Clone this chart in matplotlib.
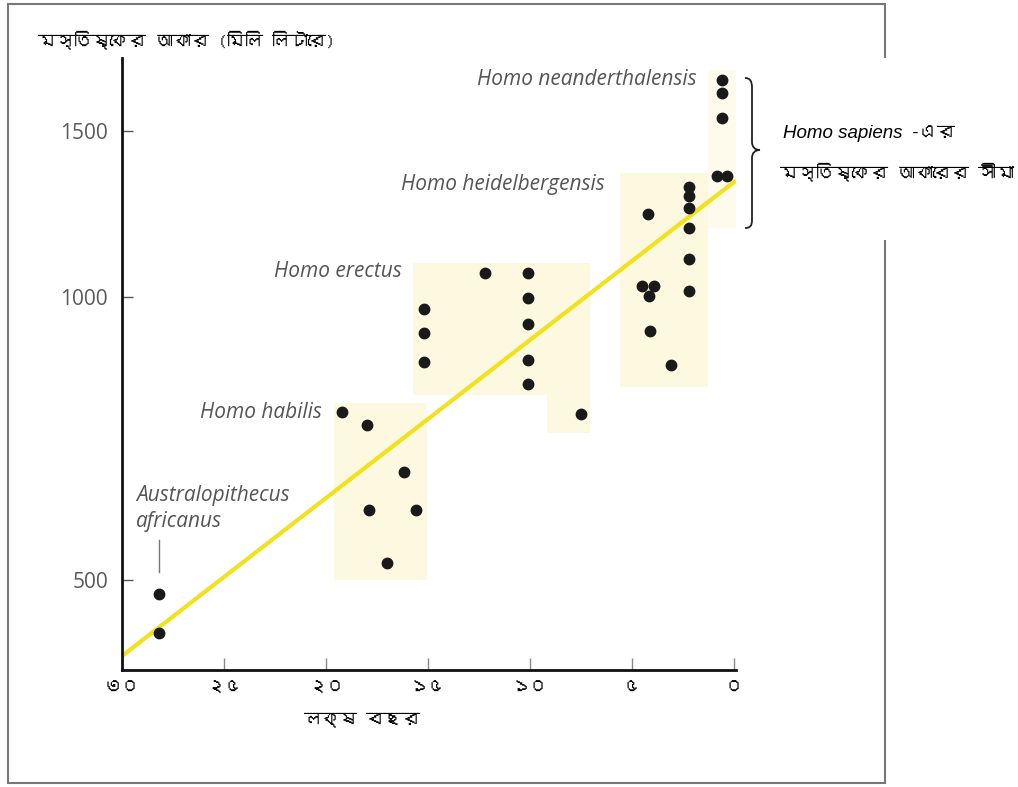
import matplotlib
matplotlib.use('Agg')
import matplotlib.pyplot as plt
from matplotlib import font_manager
from matplotlib.ft2font import FT2Font
from matplotlib.patches import Rectangle, PathPatch, Polygon
from matplotlib.path import Path
from matplotlib.ticker import NullLocator

W, H = 1018, 787

########################
# data (age in lakh years, brain size in ml)
########################
austral_age = [28.2, 28.2]
austral_vol = [483, 439]

habilis_age = [19.2, 18.0, 16.2, 17.9, 15.6, 17.0]
habilis_vol = [754, 731, 651, 594, 594, 521]

erectus_age = [15.2, 15.2, 15.2, 12.2, 10.1, 10.1, 10.1, 10.1, 10.1, 7.5]
erectus_vol = [971, 915, 853, 1061, 1061, 998, 936, 856, 808, 750]

heidel_age = [4.2, 2.2, 2.2, 2.2, 2.2, 2.2, 2.2, 4.5, 3.9, 4.15, 4.1, 3.1]
heidel_vol = [1225, 1308, 1279, 1244, 1183, 1097, 1015, 1026, 1026, 1001, 919, 847]

neander_age = [0.6, 0.6, 0.6, 0.85, 0.35]
neander_vol = [1699, 1647, 1551, 1346, 1346]

trend_age = [30, -0.1]
trend_vol = [415, 1330]

# shaded ranges
habilis_box_age = [19.6, 15.05]
habilis_box_vol = [500, 771]
erectus_box_age = [15.74, 15.74, 7.06, 7.06, 9.17, 9.17]
erectus_box_vol = [787, 1087, 1087, 717, 717, 787]
heidel_box_age = [5.59, 1.27]
heidel_box_vol = [802, 1355]
sapiens_box_age = [1.27, -0.25]
sapiens_box_vol = [1184, 1744]

x_ticks = [30, 25, 20, 15, 10, 5, 0]
x_ticklabels = ['৩০', '২৫', '২০', '১৫', '১০', '৫', '০']
y_ticks = [500, 1000, 1500]
y_ticklabels = ['500', '1000', '1500']

y_title = 'মস্তিষ্কের আকার (মিলি লিটারে)'
x_title = 'লক্ষ বছর'


def find_bengali_font():
    for f in font_manager.fontManager.ttflist:
        try:
            if 0x0995 in FT2Font(f.fname).get_charmap():
                return f.name
        except Exception:
            pass
    return None


bn = find_bengali_font()
bn_family = ([bn] if bn else []) + ['DejaVu Sans']
label_family = ['Open Sans', 'DejaVu Sans']

fig = plt.figure(figsize=(W / 100, H / 100), dpi=100)
ax = fig.add_axes([122 / W, 1 - 670 / H, 614 / W, 612 / H])

shade = '#fdf8e0'
ax.add_patch(Rectangle((habilis_box_age[0], habilis_box_vol[0]),
                       habilis_box_age[1] - habilis_box_age[0],
                       habilis_box_vol[1] - habilis_box_vol[0],
                       facecolor=shade, edgecolor='none', zorder=0))
ax.add_patch(Polygon(list(zip(erectus_box_age, erectus_box_vol)),
                     closed=True, facecolor=shade, edgecolor='none', zorder=0))
ax.add_patch(Rectangle((heidel_box_age[0], heidel_box_vol[0]),
                       heidel_box_age[1] - heidel_box_age[0],
                       heidel_box_vol[1] - heidel_box_vol[0],
                       facecolor=shade, edgecolor='none', zorder=0))
ax.add_patch(Rectangle((sapiens_box_age[0], sapiens_box_vol[0]),
                       sapiens_box_age[1] - sapiens_box_age[0],
                       sapiens_box_vol[1] - sapiens_box_vol[0],
                       facecolor='#fefbec', edgecolor='none', zorder=0))
ax.plot([sapiens_box_age[1]] * 2, sapiens_box_vol, color='#d0d0d0', lw=1, zorder=1)

ax.plot(trend_age, trend_vol, color='#f2e11c', lw=3, zorder=2, solid_capstyle='butt')

for xs, ys in [(austral_age, austral_vol), (habilis_age, habilis_vol),
               (erectus_age, erectus_vol), (heidel_age, heidel_vol),
               (neander_age, neander_vol)]:
    ax.plot(xs, ys, 'o', color='#1a1a1a', ms=7.5, zorder=3)

ax.set_yscale('log')
ax.set_xlim(30, -0.1)
ax.set_ylim(401, 1795)
ax.set_xticks(x_ticks)
ax.set_xticklabels(x_ticklabels, family=bn_family, fontsize=13)
ax.set_yticks(y_ticks)
ax.yaxis.set_minor_locator(NullLocator())
ax.set_yticklabels(y_ticklabels, family=label_family, fontsize=15, color='#5a5a5a')
ax.tick_params(axis='y', direction='in', length=8, width=1, color='#555555', pad=10)
ax.tick_params(axis='x', direction='in', length=9, width=1, color='#888888', pad=8)
for s in ['top', 'right']:
    ax.spines[s].set_visible(False)
for s in ['left', 'bottom']:
    ax.spines[s].set_linewidth(2)
    ax.spines[s].set_color('#111111')

# species labels
lab = dict(family=label_family, style='italic', fontsize=15, color='#555555')
ax.text(1.81, 1702, 'Homo neanderthalensis', ha='right', va='center', **lab)
ax.text(6.32, 1316, 'Homo heidelbergensis', ha='right', va='center', **lab)
ax.text(16.27, 1063, 'Homo erectus', ha='right', va='center', **lab)
ax.text(20.2, 754, 'Homo habilis', ha='right', va='center', **lab)
ax.text(29.31, 595, 'Australopithecus\nafricanus', ha='left', va='center',
        linespacing=1.3, **lab)
ax.plot([28.2, 28.2], [510, 551], color='#777777', lw=1)

# axis titles
fig.text(38 / W, 1 - 40 / H, y_title, family=bn_family, fontsize=13,
         ha='left', va='center')
fig.text(362 / W, 1 - 720 / H, x_title, family=bn_family, fontsize=13,
         ha='center', va='center')

# outer frame, with a white patch behind the side note
fig.patches.append(Rectangle((8 / W, 1 - 783 / H), 877 / W, 779 / H,
                             transform=fig.transFigure, fill=False,
                             edgecolor='#777777', lw=1.5))
fig.patches.append(Rectangle((762 / W, 1 - 240 / H), 256 / W, 182 / H,
                             transform=fig.transFigure, facecolor='white',
                             edgecolor='none'))

# brace
def px(x, y):
    return (x / W, 1 - y / H)

verts = [px(745, 78), px(750, 78), px(752, 81), px(752, 88),
         px(752, 142),
         px(752, 147), px(755, 150), px(760, 150),
         px(755, 150), px(752, 153), px(752, 158),
         px(752, 220),
         px(752, 226), px(750, 228), px(745, 228)]
codes = [Path.MOVETO, Path.CURVE4, Path.CURVE4, Path.CURVE4,
         Path.LINETO,
         Path.CURVE4, Path.CURVE4, Path.CURVE4,
         Path.CURVE4, Path.CURVE4, Path.CURVE4,
         Path.LINETO,
         Path.CURVE4, Path.CURVE4, Path.CURVE4]
fig.patches.append(PathPatch(Path(verts, codes), transform=fig.transFigure,
                             fill=False, edgecolor='#222222', lw=1.3))

t1 = fig.text(783 / W, 1 - 133 / H, 'Homo sapiens', family=['Liberation Sans', 'DejaVu Sans'],
              style='italic', fontsize=13.5, ha='left', va='center')
fig.canvas.draw()
bb = t1.get_window_extent()
fig.text((bb.x1 + 8) / W, 1 - 133 / H, '-এর', family=bn_family, fontsize=13,
         ha='left', va='center')
fig.text(780 / W, 1 - 172 / H, 'মস্তিষ্কের আকারের সীমা', family=bn_family,
         fontsize=13, ha='left', va='center')

fig.savefig('out.png', dpi=100)
